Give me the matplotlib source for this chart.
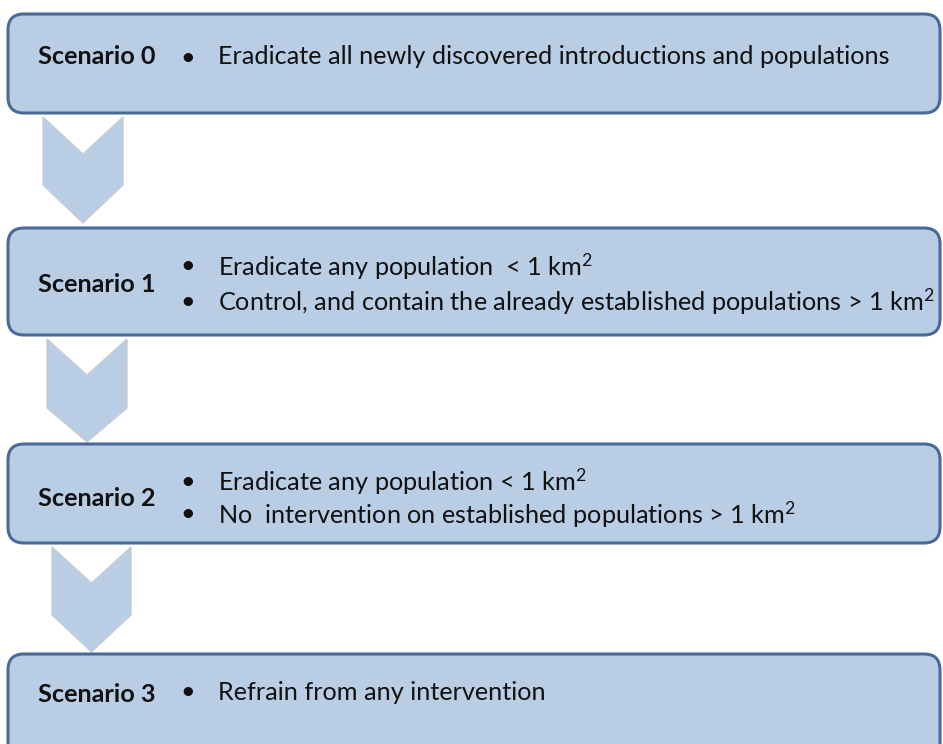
import matplotlib
matplotlib.use("Agg")
import matplotlib.pyplot as plt
from matplotlib.patches import FancyBboxPatch, Polygon

plt.rcParams['font.family'] = ['Lato', 'DejaVu Sans']
plt.rcParams['mathtext.fontset'] = 'custom'
plt.rcParams['mathtext.rm'] = 'Lato'
plt.rcParams['mathtext.it'] = 'Lato:italic'
plt.rcParams['mathtext.bf'] = 'Lato:bold'

scenarios = ["Scenario 0", "Scenario 1", "Scenario 2", "Scenario 3"]
bullets = [
    ["Eradicate all newly discovered introductions and populations"],
    [r"Eradicate any population  < 1 km$^{\mathrm{2}}$",
     r"Control, and contain the already established populations > 1 km$^{\mathrm{2}}$"],
    [r"Eradicate any population < 1 km$^{\mathrm{2}}$",
     r"No  intervention on established populations > 1 km$^{\mathrm{2}}$"],
    ["Refrain from any intervention"],
]

# layout (pixels)
boxes = [(8, 14, 113), (8, 228, 335), (8, 444, 543), (8, 654, 770)]  # left, top, bottom
box_right = 940
chevrons = [(43, 123, 117, 154, 185, 223), (47, 127, 339, 375, 408, 442),
            (52, 131, 547, 583, 615, 652)]
line_y = [[55], [264, 299], [479, 512], [690]]
label_y = [55, 283, 497, 692]

W, H = 943, 744
fig = plt.figure(figsize=(W / 100, H / 100), dpi=100)
ax = fig.add_axes([0, 0, 1, 1])
ax.set_xlim(0, W)
ax.set_ylim(H, 0)
ax.axis('off')

fill = '#B9CDE5'
edge = '#4A6A96'

for (l, t, b) in boxes:
    p = FancyBboxPatch((l, t), box_right - l, b - t,
                       boxstyle="round,pad=0,rounding_size=16",
                       facecolor=fill, edgecolor=edge, linewidth=2.2, zorder=2)
    ax.add_patch(p)

for (x0, x1, top, notch, sh, tip) in chevrons:
    xc = (x0 + x1) / 2
    poly = Polygon([(x0, top), (xc, notch), (x1, top), (x1, sh), (xc, tip), (x0, sh)],
                   closed=True, facecolor=fill, edgecolor='#C8CED6', linewidth=1.0, zorder=1)
    ax.add_patch(poly)

fs = 18.2
for i, name in enumerate(scenarios):
    ax.text(38, label_y[i], name, fontsize=fs, fontweight='bold', color='#111111',
            va='center_baseline', ha='left', zorder=3)
    for j, txt in enumerate(bullets[i]):
        y = line_y[i][j]
        ax.text(188, y, "•", fontsize=fs, color='#111111', va='center_baseline', ha='center', zorder=3)
        ax.text(218, y, txt, fontsize=fs, color='#111111', va='center_baseline', ha='left', zorder=3)

fig.savefig("out.png", dpi=100)
